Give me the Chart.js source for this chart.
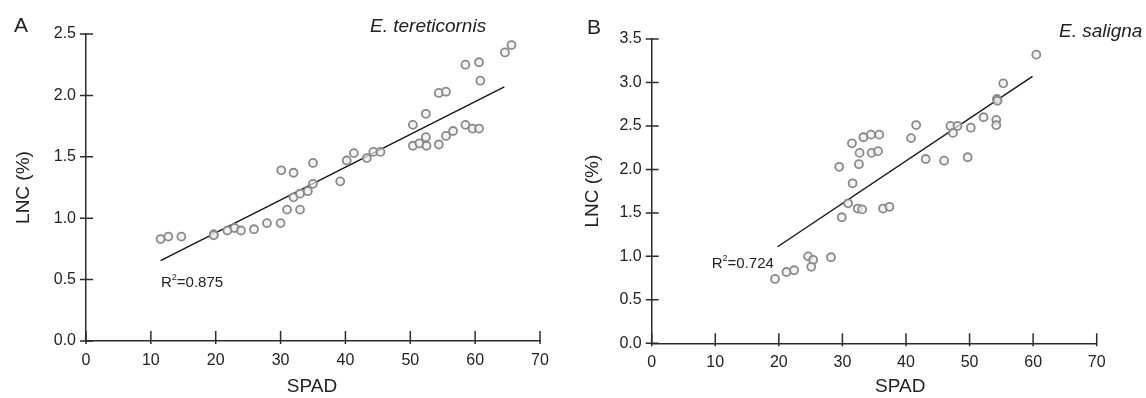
<!DOCTYPE html>
<html>
<head>
<meta charset="utf-8">
<script src="https://cdn.jsdelivr.net/npm/chart.js@4.4.0/dist/chart.umd.min.js"></script>
<style>
  body { margin: 0; background: #fff; width: 1146px; height: 398px; position: relative; overflow: hidden;
         font-family: "Liberation Sans", Arial, sans-serif; color: #222; }
  .panel { position: absolute; top: 0; width: 573px; height: 398px; }
  .lbl { position: absolute; line-height: 1; white-space: nowrap; }
</style>
</head>
<body>
<div class="panel" style="left:0"><canvas id="chartA" width="573" height="398"></canvas></div>
<div class="panel" style="left:573px"><canvas id="chartB" width="573" height="398"></canvas></div>
<div class="lbl" style="left:14px;top:14px;font-size:21px">A</div>
<div class="lbl" style="left:370px;top:16px;font-size:19px;font-style:italic">E. tereticornis</div>
<div class="lbl" style="left:587px;top:16px;font-size:21px">B</div>
<div class="lbl" style="left:1059px;top:21px;font-size:19px;font-style:italic">E. saligna</div>
<script>
// panel A - E. tereticornis
const spadA = [11.5, 12.7, 14.7, 19.7, 19.7, 21.8, 22.9, 23.9, 25.9, 27.9, 30.0, 31.0, 33.0, 32.0, 33.0,
  34.2, 35.0, 30.1, 32.0, 35.0, 39.2, 40.2, 41.3, 43.3, 44.3, 45.4, 50.4, 51.4, 52.4, 52.5, 50.4, 52.4,
  54.4, 55.5, 56.6, 58.5, 59.6, 60.6, 54.4, 55.5, 58.5, 60.6, 60.8, 64.6, 65.6];
const lncA = [0.83, 0.85, 0.85, 0.87, 0.86, 0.90, 0.92, 0.90, 0.91, 0.96, 0.96, 1.07, 1.07, 1.17, 1.20,
  1.22, 1.28, 1.39, 1.37, 1.45, 1.30, 1.47, 1.53, 1.49, 1.54, 1.54, 1.59, 1.61, 1.66, 1.59, 1.76, 1.85,
  1.60, 1.67, 1.71, 1.76, 1.73, 1.73, 2.02, 2.03, 2.25, 2.27, 2.12, 2.35, 2.41];
const fitSpadA = [11.5, 64.5];
const fitLncA = [0.654, 2.07];

// panel B - E. saligna
const spadB = [19.4, 21.2, 22.4, 24.6, 25.4, 25.1, 28.2, 29.9, 30.9, 32.4, 33.1, 36.4, 37.4, 31.6, 29.5,
  32.6, 32.7, 34.6, 35.6, 31.5, 33.3, 34.5, 35.8, 41.6, 40.8, 43.1, 46.0, 49.7, 47.0, 48.1, 47.4, 50.2,
  52.2, 54.2, 54.2, 54.3, 54.4, 55.3, 60.5];
const lncB = [0.74, 0.82, 0.84, 1.00, 0.96, 0.88, 0.99, 1.45, 1.61, 1.55, 1.54, 1.55, 1.57, 1.84, 2.03,
  2.06, 2.19, 2.19, 2.21, 2.30, 2.37, 2.40, 2.40, 2.51, 2.36, 2.12, 2.10, 2.14, 2.50, 2.50, 2.42, 2.48,
  2.60, 2.57, 2.51, 2.81, 2.79, 2.99, 3.32];
const fitSpadB = [19.8, 59.9];
const fitLncB = [1.11, 3.07];

const xTicks = [0, 10, 20, 30, 40, 50, 60, 70];

Chart.defaults.font.family = '"Liberation Sans", Arial, sans-serif';
Chart.defaults.color = "#222";

const axisColor = "#2b2b2b";

// ticks that cross the axis lines, the x title and the R² note
const axisDecor = {
  id: "axisDecor",
  afterDraw(chart, args, opts) {
    const ctx = chart.ctx;
    const xs = chart.scales.x, ys = chart.scales.y;
    const area = chart.chartArea;
    ctx.save();
    ctx.strokeStyle = axisColor;
    ctx.lineWidth = 1.5;
    ctx.beginPath();
    xs.ticks.forEach((t) => {
      const px = xs.getPixelForValue(t.value);
      ctx.moveTo(px, area.bottom - 10);
      ctx.lineTo(px, area.bottom + 3);
    });
    ys.ticks.forEach((t) => {
      const py = ys.getPixelForValue(t.value);
      ctx.moveTo(area.left - 6, py);
      ctx.lineTo(area.left + 7, py);
    });
    ctx.stroke();

    ctx.fillStyle = "#222";
    ctx.textBaseline = "middle";
    ctx.textAlign = "center";
    ctx.font = '19px "Liberation Sans", Arial, sans-serif';
    ctx.fillText("SPAD", (area.left + area.right) / 2 + opts.titleDx, 387);

    // R² label
    let x = xs.getPixelForValue(opts.r2At[0]);
    const y = ys.getPixelForValue(opts.r2At[1]);
    ctx.textBaseline = "alphabetic";
    ctx.textAlign = "left";
    ctx.font = '15px "Liberation Sans", Arial, sans-serif';
    ctx.fillText("R", x, y);
    x += ctx.measureText("R").width;
    ctx.font = '9px "Liberation Sans", Arial, sans-serif';
    ctx.fillText("2", x, y - 7);
    x += ctx.measureText("2").width;
    ctx.font = '15px "Liberation Sans", Arial, sans-serif';
    ctx.fillText("=" + opts.r2, x, y);
    ctx.restore();
  },
};

function makeChart(id, spad, lnc, fitSpad, fitLnc, yMax, box, decor) {
  const points = spad.map((v, i) => ({ x: v, y: lnc[i] }));
  const fit = fitSpad.map((v, i) => ({ x: v, y: fitLnc[i] }));
  return new Chart(document.getElementById(id), {
    type: "scatter",
    data: {
      datasets: [
        {
          data: points,
          pointRadius: 4,
          pointBorderWidth: 1.8,
          pointBorderColor: "#8a8a8a",
          pointBackgroundColor: "rgba(238,238,238,0.7)",
        },
        {
          data: fit,
          showLine: true,
          pointRadius: 0,
          borderColor: "#111",
          borderWidth: 1.3,
        },
      ],
    },
    options: {
      responsive: false,
      animation: false,
      devicePixelRatio: 1,
      layout: { padding: { left: 0, top: box.top, right: box.right, bottom: 0 } },
      plugins: { legend: { display: false }, tooltip: { enabled: false }, axisDecor: decor },
      scales: {
        x: {
          type: "linear",
          min: 0,
          max: 70,
          afterBuildTicks: (s) => { s.ticks = xTicks.map((v) => ({ value: v })); },
          afterFit: (s) => { s.height = box.xHeight; },
          grid: { display: false, drawTicks: false },
          border: { display: true, color: axisColor, width: 1.5 },
          ticks: { padding: 10, font: { size: 16 }, color: "#222" },
          title: { display: false },
        },
        y: {
          type: "linear",
          min: 0,
          max: yMax,
          afterFit: (s) => { s.width = box.yWidth; },
          grid: { display: false, drawTicks: false },
          border: { display: true, color: axisColor, width: 1.5 },
          ticks: { stepSize: 0.5, padding: 10, font: { size: 16 }, color: "#222",
                   callback: (v) => v.toFixed(1) },
          title: { display: true, text: "LNC (%)", font: { size: 19 }, color: "#222",
                   padding: { top: box.yTitlePad, bottom: 0 } },
        },
      },
    },
    plugins: [axisDecor],
  });
}

makeChart("chartA", spadA, lncA, fitSpadA, fitLncA, 2.5,
  { top: 34, right: 33, xHeight: 57, yWidth: 86, yTitlePad: 12.6 },
  { titleDx: -1, r2: "0.875", r2At: [11.56, 0.437] });

makeChart("chartB", spadB, lncB, fitSpadB, fitLncB, 3.5,
  { top: 39, right: 49.3, xHeight: 54.7, yWidth: 78.7, yTitlePad: 8 },
  { titleDx: 26, r2: "0.724", r2At: [9.44, 0.863] });
</script>
</body>
</html>
